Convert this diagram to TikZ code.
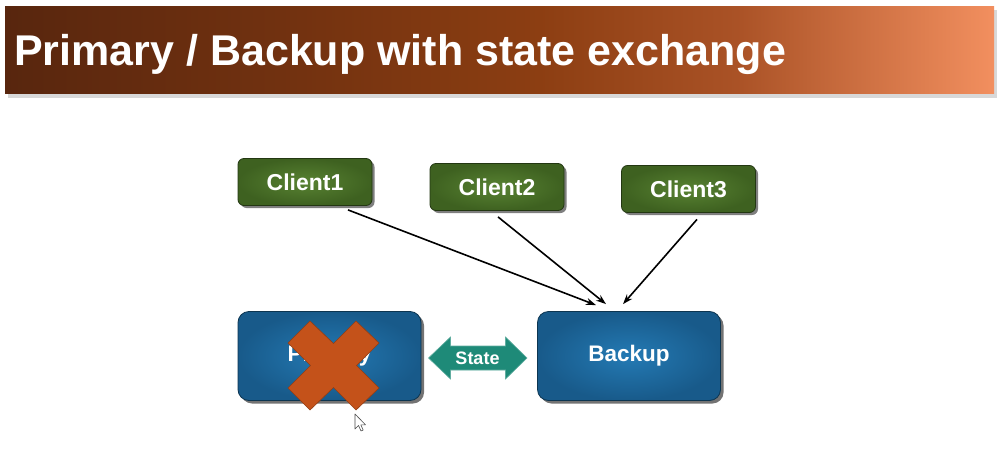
\documentclass[tikz,border=0pt]{standalone}
\usepackage{fontspec}
\setmainfont{Liberation Sans}
\usetikzlibrary{shadows,calc,arrows.meta}
\definecolor{tA}{RGB}{88,38,14}
\definecolor{tB}{RGB}{115,50,16}
\definecolor{tC}{RGB}{140,62,18}
\definecolor{tD}{RGB}{170,82,38}
\definecolor{tE}{RGB}{242,143,95}
\definecolor{blueIn}{RGB}{36,122,180}
\definecolor{blueOut}{RGB}{24,90,138}
\definecolor{blueEdge}{RGB}{13,53,80}
\definecolor{grnIn}{RGB}{88,130,50}
\definecolor{grnOut}{RGB}{62,97,32}
\definecolor{grnEdge}{RGB}{35,55,18}
\definecolor{teal}{RGB}{30,138,120}
\definecolor{xred}{RGB}{196,82,26}
\pgfdeclarehorizontalshading{titleshade}{100bp}{color(0bp)=(tA); color(25bp)=(tA); color(40bp)=(tB); color(52bp)=(tC); color(62bp)=(tD); color(75bp)=(tE); color(100bp)=(tE)}
\tikzset{
  clientbox/.style={rectangle, rounded corners=6pt, minimum width=134pt, minimum height=47pt,
    inner color=grnIn, outer color=grnOut, draw=grnEdge, line width=0.8pt,
    drop shadow={shadow xshift=2.5pt, shadow yshift=-2.5pt, fill=black, opacity=0.5},
    text=white, font=\bfseries\fontsize{23}{26}\selectfont},
  serverbox/.style={rectangle, rounded corners=11pt, minimum width=183pt, minimum height=89pt,
    inner color=blueIn, outer color=blueOut, draw=blueEdge, line width=0.8pt,
    drop shadow={shadow xshift=3pt, shadow yshift=-3pt, fill=black, opacity=0.55},
    text=white, font=\bfseries\fontsize{22.5}{26}\selectfont},
  reqarrow/.style={-{Stealth[length=10pt,width=7pt]}, line width=1.6pt, black},
}
\begin{document}
\begin{tikzpicture}[x=1pt,y=-1pt]
\useasboundingbox (0,0) rectangle (1006,452);
\fill[white] (0,0) rectangle (1006,452);
% title bar
\fill[black!25, opacity=0.6] (8,10) rectangle (997,98);
\shade[shading=titleshade] (5,7) rectangle (994,93);
\node[anchor=base west, inner sep=0pt, text=white, font=\bfseries\fontsize{43}{48}\selectfont] (title) at (14,66) {Primary / Backup with state exchange};
% clients
\node[clientbox] (c1) at (305,182) {Client1};
\node[clientbox] (c2) at (497,187) {Client2};
\node[clientbox] (c3) at (688.5,189) {Client3};
% servers
\node[serverbox] (pr) at (329.5,356) {Primary};
\node[serverbox] (bk) at (629,356) {Backup};
% state arrow
\coordinate (st) at (477.5,358);
\fill[teal, draw=teal!70!white, line width=0.6pt]
  ($(st)+(-49,0)$) -- ($(st)+(-27,-21)$) -- ($(st)+(-27,-12)$) -- ($(st)+(28,-12)$) -- ($(st)+(28,-21)$)
  -- ($(st)+(49.5,0)$) -- ($(st)+(28,21)$) -- ($(st)+(28,12)$) -- ($(st)+(-27,12)$) -- ($(st)+(-27,21)$) -- cycle;
\node[text=white, font=\bfseries\fontsize{18}{20}\selectfont] (stl) at (st) {State};
% requests
\draw[reqarrow] ([xshift=43pt,yshift=-4pt]c1.south) -- ([xshift=-33pt,yshift=6pt]bk.north);
\draw[reqarrow] ([xshift=1pt,yshift=-6pt]c2.south) -- ([xshift=-23pt,yshift=7pt]bk.north);
\draw[reqarrow] ([xshift=8.5pt,yshift=-6.5pt]c3.south) -- ([xshift=-6pt,yshift=7pt]bk.north);
% red X over primary
\fill[xred, draw=xred!75!black, line width=0.6pt]
  (310,321) -- (333.5,343.5) -- (356,321) -- (379,343) -- (356.5,365.5) -- (379,388)
  -- (356,410) -- (333.5,387.5) -- (310,410) -- (288,388) -- (310.5,365.5) -- (288,343) -- cycle;
% mouse cursor
\filldraw[fill=white, draw=black!70, line width=0.6pt, line join=round]
  (355,414) -- (355,429) -- (358.5,425.5) -- (361,431) -- (363.2,430) -- (360.8,424.8) -- (365.5,424.8) -- cycle;
\end{tikzpicture}
\end{document}
